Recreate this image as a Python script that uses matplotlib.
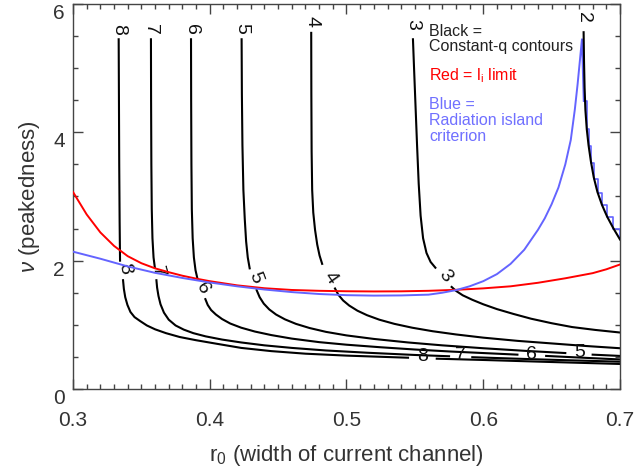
import numpy as np
import matplotlib
matplotlib.use('Agg')
import matplotlib.pyplot as plt
from matplotlib.ticker import MultipleLocator

nan = np.nan

# constant-q contours (nan = gap left for a label)
q2_x = [0.6734, 0.6737, 0.6741, 0.6747, 0.6757, 0.6770, 0.6787, 0.6808, 0.6835, 0.6868,
        0.6905, 0.6950, 0.7000]
q2_y = [5.56, 5.10, 4.70, 4.35, 4.05, 3.80, 3.55, 3.30, 3.07, 2.87,
        2.69, 2.51, 2.33]

q3_x = [0.5486, 0.5494, 0.5505, 0.5516, 0.5528, 0.5542, 0.5560, 0.5585, 0.5615, 0.5650, nan,
        0.5769, 0.5800, 0.5850, 0.5920, 0.6000, 0.6100, 0.6220, 0.6350, 0.6500, 0.6650,
        0.6820, 0.7000]
q3_y = [5.45, 5.00, 4.40, 3.80, 3.20, 2.70, 2.35, 2.12, 1.98, 1.89, nan,
        1.59, 1.53, 1.46, 1.39, 1.32, 1.245, 1.17, 1.095, 1.025, 0.965,
        0.92, 0.88]

q4_x = [0.4742, 0.4743, 0.4745, 0.4749, 0.4757, 0.4770, 0.4786, 0.4803, 0.4822, nan,
        0.4916, 0.4940, 0.4975, 0.5020, 0.5080, 0.5150, 0.5240, 0.5350, 0.5480, 0.5630,
        0.5800, 0.6000, 0.6250, 0.6500, 0.6750, 0.7000]
q4_y = [5.55, 4.60, 3.70, 3.10, 2.75, 2.48, 2.25, 2.08, 1.95, nan,
        1.566, 1.47, 1.38, 1.30, 1.22, 1.15, 1.08, 1.015, 0.955, 0.90,
        0.85, 0.80, 0.75, 0.71, 0.67, 0.635]

q5_x = [0.4233, 0.4235, 0.4239, 0.4246, 0.4256, 0.4266, 0.4278, 0.4292, nan,
        0.4343, 0.4365, 0.4395, 0.4435, 0.4485, 0.4550, 0.4630, 0.4730, 0.4850, 0.5000,
        0.5200, 0.5450, 0.5700, 0.6000, 0.6300, 0.6600, nan, 0.6800, 0.7000]
q5_y = [5.45, 4.60, 3.80, 3.10, 2.65, 2.30, 2.05, 1.88, nan,
        1.54, 1.43, 1.33, 1.24, 1.16, 1.085, 1.015, 0.95, 0.89, 0.835,
        0.78, 0.725, 0.68, 0.635, 0.595, 0.56, nan, 0.535, 0.515]

q6_x = [0.3863, 0.3864, 0.3866, 0.3869, 0.3875, 0.3884, 0.3896, 0.3910, nan,
        0.3968, 0.3985, 0.4010, 0.4045, 0.4090, 0.4150, 0.4230, 0.4330, 0.4450, 0.4600,
        0.4800, 0.5000, 0.5250, 0.5500, 0.5750, 0.6000, 0.6250, nan, 0.6460, 0.6700, 0.7000]
q6_y = [5.45, 4.50, 3.50, 2.80, 2.35, 2.05, 1.85, 1.72, nan,
        1.40, 1.31, 1.23, 1.16, 1.09, 1.02, 0.955, 0.895, 0.84, 0.785,
        0.73, 0.69, 0.65, 0.615, 0.585, 0.56, 0.535, nan, 0.515, 0.49, 0.46]

q7_x = [0.3570, 0.3571, 0.3573, 0.3576, 0.3581, 0.3589, 0.3598, nan,
        0.3610, 0.3615, 0.3625, 0.3640, 0.3665, 0.3700, 0.3750, 0.3810, 0.3880, 0.3970,
        0.4090, 0.4230, 0.4400, 0.4600, 0.4850, 0.5150, 0.5500, 0.5750, nan,
        0.5920, 0.6200, 0.6500, 0.6750, 0.7000]
q7_y = [5.45, 4.50, 3.50, 2.80, 2.35, 2.05, 1.90, nan,
        1.695, 1.58, 1.45, 1.32, 1.19, 1.08, 0.99, 0.925, 0.87, 0.82,
        0.77, 0.725, 0.68, 0.64, 0.60, 0.565, 0.53, 0.51, nan,
        0.495, 0.475, 0.455, 0.44, 0.425]

q8_x = [0.3334, 0.3336, 0.3338, 0.3341, 0.3344, nan,
        0.3366, 0.3372, 0.3382, 0.3398, 0.3420, 0.3450, 0.3490, 0.3540, 0.3600, 0.3680,
        0.3780, 0.3900, 0.4050, 0.4230, 0.4450, 0.4700, 0.5000, 0.5450, nan,
        0.5660, 0.6000, 0.6500, 0.7000]
q8_y = [5.45, 4.50, 3.50, 2.60, 2.00, nan,
        1.695, 1.56, 1.43, 1.31, 1.20, 1.12, 1.06, 0.99, 0.93, 0.87,
        0.81, 0.76, 0.705, 0.64, 0.59, 0.55, 0.52, 0.487, nan,
        0.472, 0.452, 0.42, 0.39]

# contour labels
lab_text = ['8', '7', '6', '5', '4', '3', '2',
            '8', '7', '6', '5', '4', '3',
            '8', '7', '6', '5']
lab_x = [0.3336, 0.3570, 0.3863, 0.4233, 0.4745, 0.5486, 0.6730,
         0.3375, 0.3620, 0.3950, 0.4331, 0.4880, 0.5718,
         0.5555, 0.5835, 0.6355, 0.6705]
lab_y = [5.61, 5.61, 5.61, 5.62, 5.73, 5.68, 5.79,
         1.88, 1.82, 1.57, 1.74, 1.73, 1.76,
         0.50, 0.52, 0.54, 0.57]
lab_rot = [-90, -90, -90, -90, -90, -90, -90,
           -80, -75, -60, -70, -55, -55,
           0, 0, 0, 0]

# red: l_i limit
red_x = [0.300, 0.310, 0.320, 0.330, 0.340, 0.350, 0.360, 0.370, 0.380, 0.390, 0.400,
         0.420, 0.440, 0.460, 0.480, 0.500, 0.520, 0.540, 0.560, 0.580, 0.600, 0.620,
         0.640, 0.660, 0.680, 0.690, 0.700]
red_y = [3.07, 2.72, 2.44, 2.23, 2.07, 1.96, 1.88, 1.82, 1.765, 1.72, 1.68,
         1.615, 1.57, 1.543, 1.53, 1.523, 1.52, 1.522, 1.53, 1.545, 1.568, 1.60,
         1.655, 1.725, 1.805, 1.865, 1.94]

# blue: radiation island criterion
blue_x = [0.300, 0.320, 0.340, 0.360, 0.380, 0.400, 0.420, 0.440, 0.460, 0.480, 0.500,
          0.520, 0.540, 0.560, 0.570, 0.580, 0.590, 0.600, 0.610, 0.620, 0.630, 0.640,
          0.645, 0.650, 0.655, 0.660, 0.664, 0.667, 0.669, 0.6705, 0.6715, 0.6722, 0.6735]
blue_y = [2.14, 2.03, 1.91, 1.81, 1.73, 1.66, 1.60, 1.55, 1.51, 1.48, 1.462,
          1.455, 1.458, 1.47, 1.50, 1.54, 1.60, 1.68, 1.79, 1.95, 2.17, 2.48,
          2.66, 2.88, 3.14, 3.50, 3.88, 4.36, 4.75, 5.08, 5.30, 5.45, 4.49]
blue_tail_x = [0.6735, 0.6757, 0.6772, 0.6790, 0.6810, 0.6838, 0.6870, 0.6908, 0.6952, 0.7000]
blue_tail_y = [4.49, 4.05, 3.78, 3.52, 3.28, 3.05, 2.86, 2.68, 2.50, 2.33]

plt.rcParams['font.family'] = 'Liberation Sans'
plt.rcParams['mathtext.fontset'] = 'custom'
plt.rcParams['mathtext.rm'] = 'Liberation Sans'
plt.rcParams['mathtext.it'] = 'Liberation Sans:italic'

fig = plt.figure(figsize=(6.37, 4.75), dpi=100)
ax = fig.add_axes([0.1146, 0.1811, 0.8587, 0.8105])

for xs, ys in [(q3_x, q3_y), (q4_x, q4_y), (q5_x, q5_y), (q6_x, q6_y), (q7_x, q7_y), (q8_x, q8_y)]:
    ax.plot(xs, ys, color='black', lw=1.5, zorder=2)

for t, x, y, r in zip(lab_text, lab_x, lab_y, lab_rot):
    ax.text(x, y, t, rotation=r, ha='center', va='center', fontsize=14,
            color='#111111', rotation_mode='anchor', zorder=2)

ax.plot(red_x, red_y, color='#ff0000', lw=1.4, zorder=3)
ax.plot(blue_x, blue_y, color='#6464ff', lw=1.4, zorder=3)
ax.plot(blue_tail_x, blue_tail_y, color='#6464ff', lw=1.2, drawstyle='steps-post', zorder=3)
ax.plot(q2_x, q2_y, color='black', lw=1.5, zorder=4)

ax.text(0.5603, 5.575, 'Black =', fontsize=11.5, color='#222222', va='center')
ax.text(0.5603, 5.33, 'Constant-q contours', fontsize=11.5, color='#222222', va='center')
ax.text(0.5603, 4.88, r'Red = l$_\mathregular{i}$ limit', fontsize=11.5, color='#ff0000', va='center')
ax.text(0.5603, 4.43, 'Blue =', fontsize=11.5, color='#7070ff', va='center')
ax.text(0.5603, 4.19, 'Radiation island', fontsize=11.5, color='#7070ff', va='center')
ax.text(0.5603, 3.93, 'criterion', fontsize=11.5, color='#7070ff', va='center')

ax.set_xlim(0.3, 0.7)
ax.set_ylim(0, 6)
ax.xaxis.set_major_locator(MultipleLocator(0.1))
ax.xaxis.set_minor_locator(MultipleLocator(0.01))
ax.yaxis.set_major_locator(MultipleLocator(2))
ax.yaxis.set_minor_locator(MultipleLocator(0.5))
ax.tick_params(which='both', direction='in', top=True, right=True, color='#444444',
               width=1.0, labelcolor='#333333', labelsize=15)
ax.tick_params(which='major', length=7)
ax.tick_params(which='minor', length=3.5)
ax.tick_params(axis='x', pad=16)
ax.tick_params(axis='y', pad=6)
for s in ax.spines.values():
    s.set_color('#444444')
    s.set_linewidth(1.0)

ax.set_xlabel(r'r$_\mathregular{0}$ (width of current channel)', fontsize=16, color='#333333', labelpad=9)
ax.set_ylabel(r'$\nu$ (peakedness)', fontsize=16, color='#333333', labelpad=8)

fig.canvas.draw()
ylabs = ax.get_yticklabels()
for lab in ylabs:
    lab.set_va('top')
ylabs[0].set_va('bottom')

fig.savefig('out.png', dpi=100)
